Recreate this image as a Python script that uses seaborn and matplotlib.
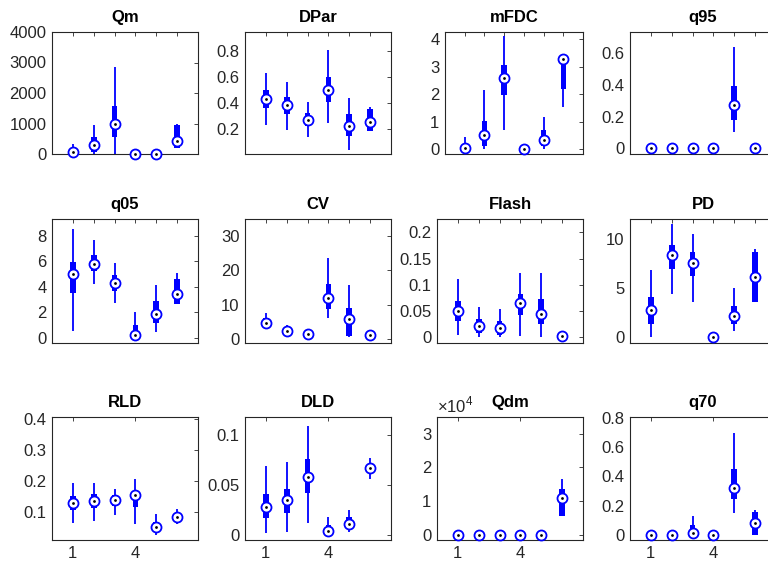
import numpy as np
import pandas as pd
import matplotlib
matplotlib.use("Agg")
import matplotlib.pyplot as plt
import seaborn as sns
from matplotlib.ticker import FuncFormatter

# ---------------- data ----------------
titles = ["Qm", "DPar", "mFDC", "q95",
          "q05", "CV", "Flash", "PD",
          "RLD", "DLD", "Qdm", "q70"]
groups = [1, 2, 3, 4, 5, 6]

# lower whisker end, first quartile, median, third quartile, upper whisker end
w_lo = [
    [0, 0, 0, 0, 0, 196],
    [0.235, 0.197, 0.142, 0.248, 0.046, 0.19],
    [0, 0, 0.68, 0, 0, 1.52],
    [0, 0, 0, 0, 0.103, 0],
    [0.5, 4.18, 2.72, 0, 0.42, 2.64],
    [2.9, 1.75, 0.8, 6.2, 0.5, 0.8],
    [0.003, 0, 0, 0.0013, 0, 0.0015],
    [0, 4.37, 3.62, 0, 0.61, 3.62],
    [0.065, 0.073, 0.093, 0.063, 0.028, 0.063],
    [0.0013, 0.003, 0.012, 0, 0.0023, 0.0563],
    [0, 0, 0, 0, 0, 0.57],
    [0, 0, 0, 0, 0.150, 0],
]
q1 = [
    [30, 80, 543, 0, 0, 196],
    [0.362, 0.319, 0.223, 0.413, 0.154, 0.19],
    [0, 0.1, 1.96, 0, 0.13, 2.19],
    [0, 0, 0, 0, 0.176, 0],
    [3.48, 5.23, 3.69, 0, 1.15, 2.64],
    [3.7, 2.0, 1.1, 8.8, 0.97, 1.0],
    [0.0301, 0.0077, 0.0045, 0.0429, 0.0256, 0.002],
    [1.40, 7.0, 6.25, 0, 1.37, 3.62],
    [0.107, 0.113, 0.121, 0.116, 0.046, 0.076],
    [0.0163, 0.022, 0.0423, 0.0013, 0.008, 0.063],
    [0, 0, 0, 0, 0, 0.57],
    [0, 0, 0, 0, 0.242, 0],
]
med = [
    [65, 293, 978, 0, 0, 424],
    [0.430, 0.385, 0.276, 0.501, 0.228, 0.256],
    [0.05, 0.5, 2.59, 0, 0.33, 3.29],
    [0, 0, 0, 0, 0.275, 0],
    [4.97, 5.80, 4.29, 0.21, 1.88, 3.40],
    [4.67, 2.43, 1.46, 12.0, 5.94, 1.17],
    [0.0506, 0.0205, 0.018, 0.0647, 0.0449, 0.0026],
    [2.76, 8.36, 7.54, 0, 2.15, 6.18],
    [0.131, 0.137, 0.141, 0.156, 0.055, 0.086],
    [0.028, 0.035, 0.058, 0.0037, 0.011, 0.0667],
    [0, 0, 0, 0, 0, 1.086],
    [0, 0, 0.0137, 0, 0.319, 0.0775],
]
q3 = [
    [150, 550, 1587, 0, 0, 957],
    [0.501, 0.446, 0.324, 0.597, 0.319, 0.354],
    [0.2, 1.04, 3.06, 0, 0.7, 3.29],
    [0, 0, 0, 0, 0.394, 0],
    [5.96, 6.48, 4.92, 0.99, 2.88, 4.60],
    [6.1, 3.2, 1.9, 15.9, 8.9, 1.4],
    [0.0686, 0.0346, 0.0314, 0.0827, 0.0718, 0.003],
    [4.13, 9.39, 8.70, 0, 3.17, 8.70],
    [0.153, 0.159, 0.155, 0.160, 0.070, 0.097],
    [0.0407, 0.0463, 0.0763, 0.0097, 0.0173, 0.0713],
    [0, 0, 0, 0, 0, 1.36],
    [0, 0, 0.066, 0, 0.454, 0.157],
]
w_hi = [
    [330, 957, 2859, 0, 0, 978],
    [0.633, 0.565, 0.408, 0.805, 0.438, 0.37],
    [0.43, 2.14, 4.11, 0, 1.16, 3.29],
    [0, 0, 0, 0, 0.638, 0],
    [8.55, 7.64, 5.88, 1.99, 4.16, 5.07],
    [7.6, 4.0, 2.2, 23.5, 15.7, 1.6],
    [0.110, 0.0577, 0.0538, 0.123, 0.123, 0.004],
    [6.83, 11.5, 10.5, 0, 4.98, 9.04],
    [0.193, 0.195, 0.175, 0.208, 0.095, 0.110],
    [0.069, 0.073, 0.1087, 0.018, 0.0247, 0.0773],
    [0, 0, 0, 0, 0, 1.65],
    [0, 0, 0.128, 0, 0.697, 0.169],
]
y_limits = [(0, 4000), (0.013, 0.944), (-0.18, 4.27), (-0.036, 0.736),
            (-0.42, 9.31), (-1.17, 34.9), (-0.0115, 0.2256), (-0.58, 12.05),
            (0.012, 0.405), (-0.0053, 0.118), (-0.148, 3.49), (-0.036, 0.807)]
y_ticks = [[0, 1000, 2000, 3000, 4000], [0.2, 0.4, 0.6, 0.8], [0, 1, 2, 3, 4],
           [0, 0.2, 0.4, 0.6], [0, 2, 4, 6, 8], [0, 10, 20, 30],
           [0, 0.05, 0.1, 0.15, 0.2], [0, 5, 10], [0.1, 0.2, 0.3, 0.4],
           [0, 0.05, 0.1], [0, 1, 2, 3], [0, 0.2, 0.4, 0.6, 0.8]]
bottom_xticks = [1, 4]

# ---------------- style ----------------
sns.set_style("white")
plt.rcParams["font.family"] = ["Liberation Sans", "DejaVu Sans"]
plt.rcParams["mathtext.fontset"] = "custom"
plt.rcParams["mathtext.rm"] = "Liberation Sans"
DARK = "#262626"
BLUE = "#0000ff"

W, H = 768, 562
fig = plt.figure(figsize=(W / 100, H / 100), dpi=100)

col_left = [52, 245, 437, 630]
row_tb = [(32, 154), (219, 343), (417, 540)]
axw = 146

fmt = FuncFormatter(lambda v, p: "%g" % round(v, 6))

for i, title in enumerate(titles):
    r, c = divmod(i, 4)
    left = col_left[c]
    if i == 2:
        left = 445
    width = axw - (left - col_left[c])
    top, bot = row_tb[r]
    ax = fig.add_axes([left / W, 1 - bot / H, width / W, (bot - top) / H])

    rows = []
    for g, a, b, m, d, e in zip(groups, w_lo[i], q1[i], med[i], q3[i], w_hi[i]):
        for v in (a, b, m, d, e):
            rows.append({"g": g, "v": v})
    df = pd.DataFrame(rows)
    sdf = pd.DataFrame({"g": groups, "m": med[i]})

    sns.boxplot(data=df, x="g", y="v", native_scale=True, ax=ax,
                whis=(0, 100), width=0.27, color=BLUE, saturation=1,
                linewidth=0, showcaps=False, showfliers=False,
                boxprops=dict(facecolor=BLUE, edgecolor=BLUE, linewidth=0),
                whiskerprops=dict(color=BLUE, linewidth=1.3),
                medianprops=dict(color=BLUE, linewidth=0))
    sns.scatterplot(data=sdf, x="g", y="m", ax=ax, marker="o", s=52,
                    color="white", edgecolor=BLUE, linewidth=1.3,
                    clip_on=False, zorder=5, legend=False)
    sns.scatterplot(data=sdf, x="g", y="m", ax=ax, marker="o", s=4,
                    color="black", edgecolor="black", linewidth=0,
                    clip_on=False, zorder=6, legend=False)

    ax.set_xlim(0, 7)
    ax.set_ylim(*y_limits[i])
    ax.set_yticks(y_ticks[i])
    ax.yaxis.set_major_formatter(fmt)
    if r == 2:
        ax.set_xticks(bottom_xticks)
        ax.set_xticklabels([str(t) for t in bottom_xticks])
    else:
        ax.set_xticks(groups)
        ax.set_xticklabels([])
    ax.set_xlabel("")
    ax.set_ylabel("")
    ax.tick_params(direction="in", length=3, width=0.6, colors=DARK,
                   labelsize=12, top=True, right=True, pad=4)
    for sp in ax.spines.values():
        sp.set_visible(True)
        sp.set_color(DARK)
        sp.set_linewidth(0.8)
    ax.set_title(title, fontsize=12, fontweight="bold", color="black", pad=7)
    if title == "Qdm":
        ax.text(0.0, 1.015, r"$\times10^{4}$", transform=ax.transAxes,
                ha="left", va="bottom", fontsize=12, color=DARK)

fig.savefig("out.png", dpi=100)
